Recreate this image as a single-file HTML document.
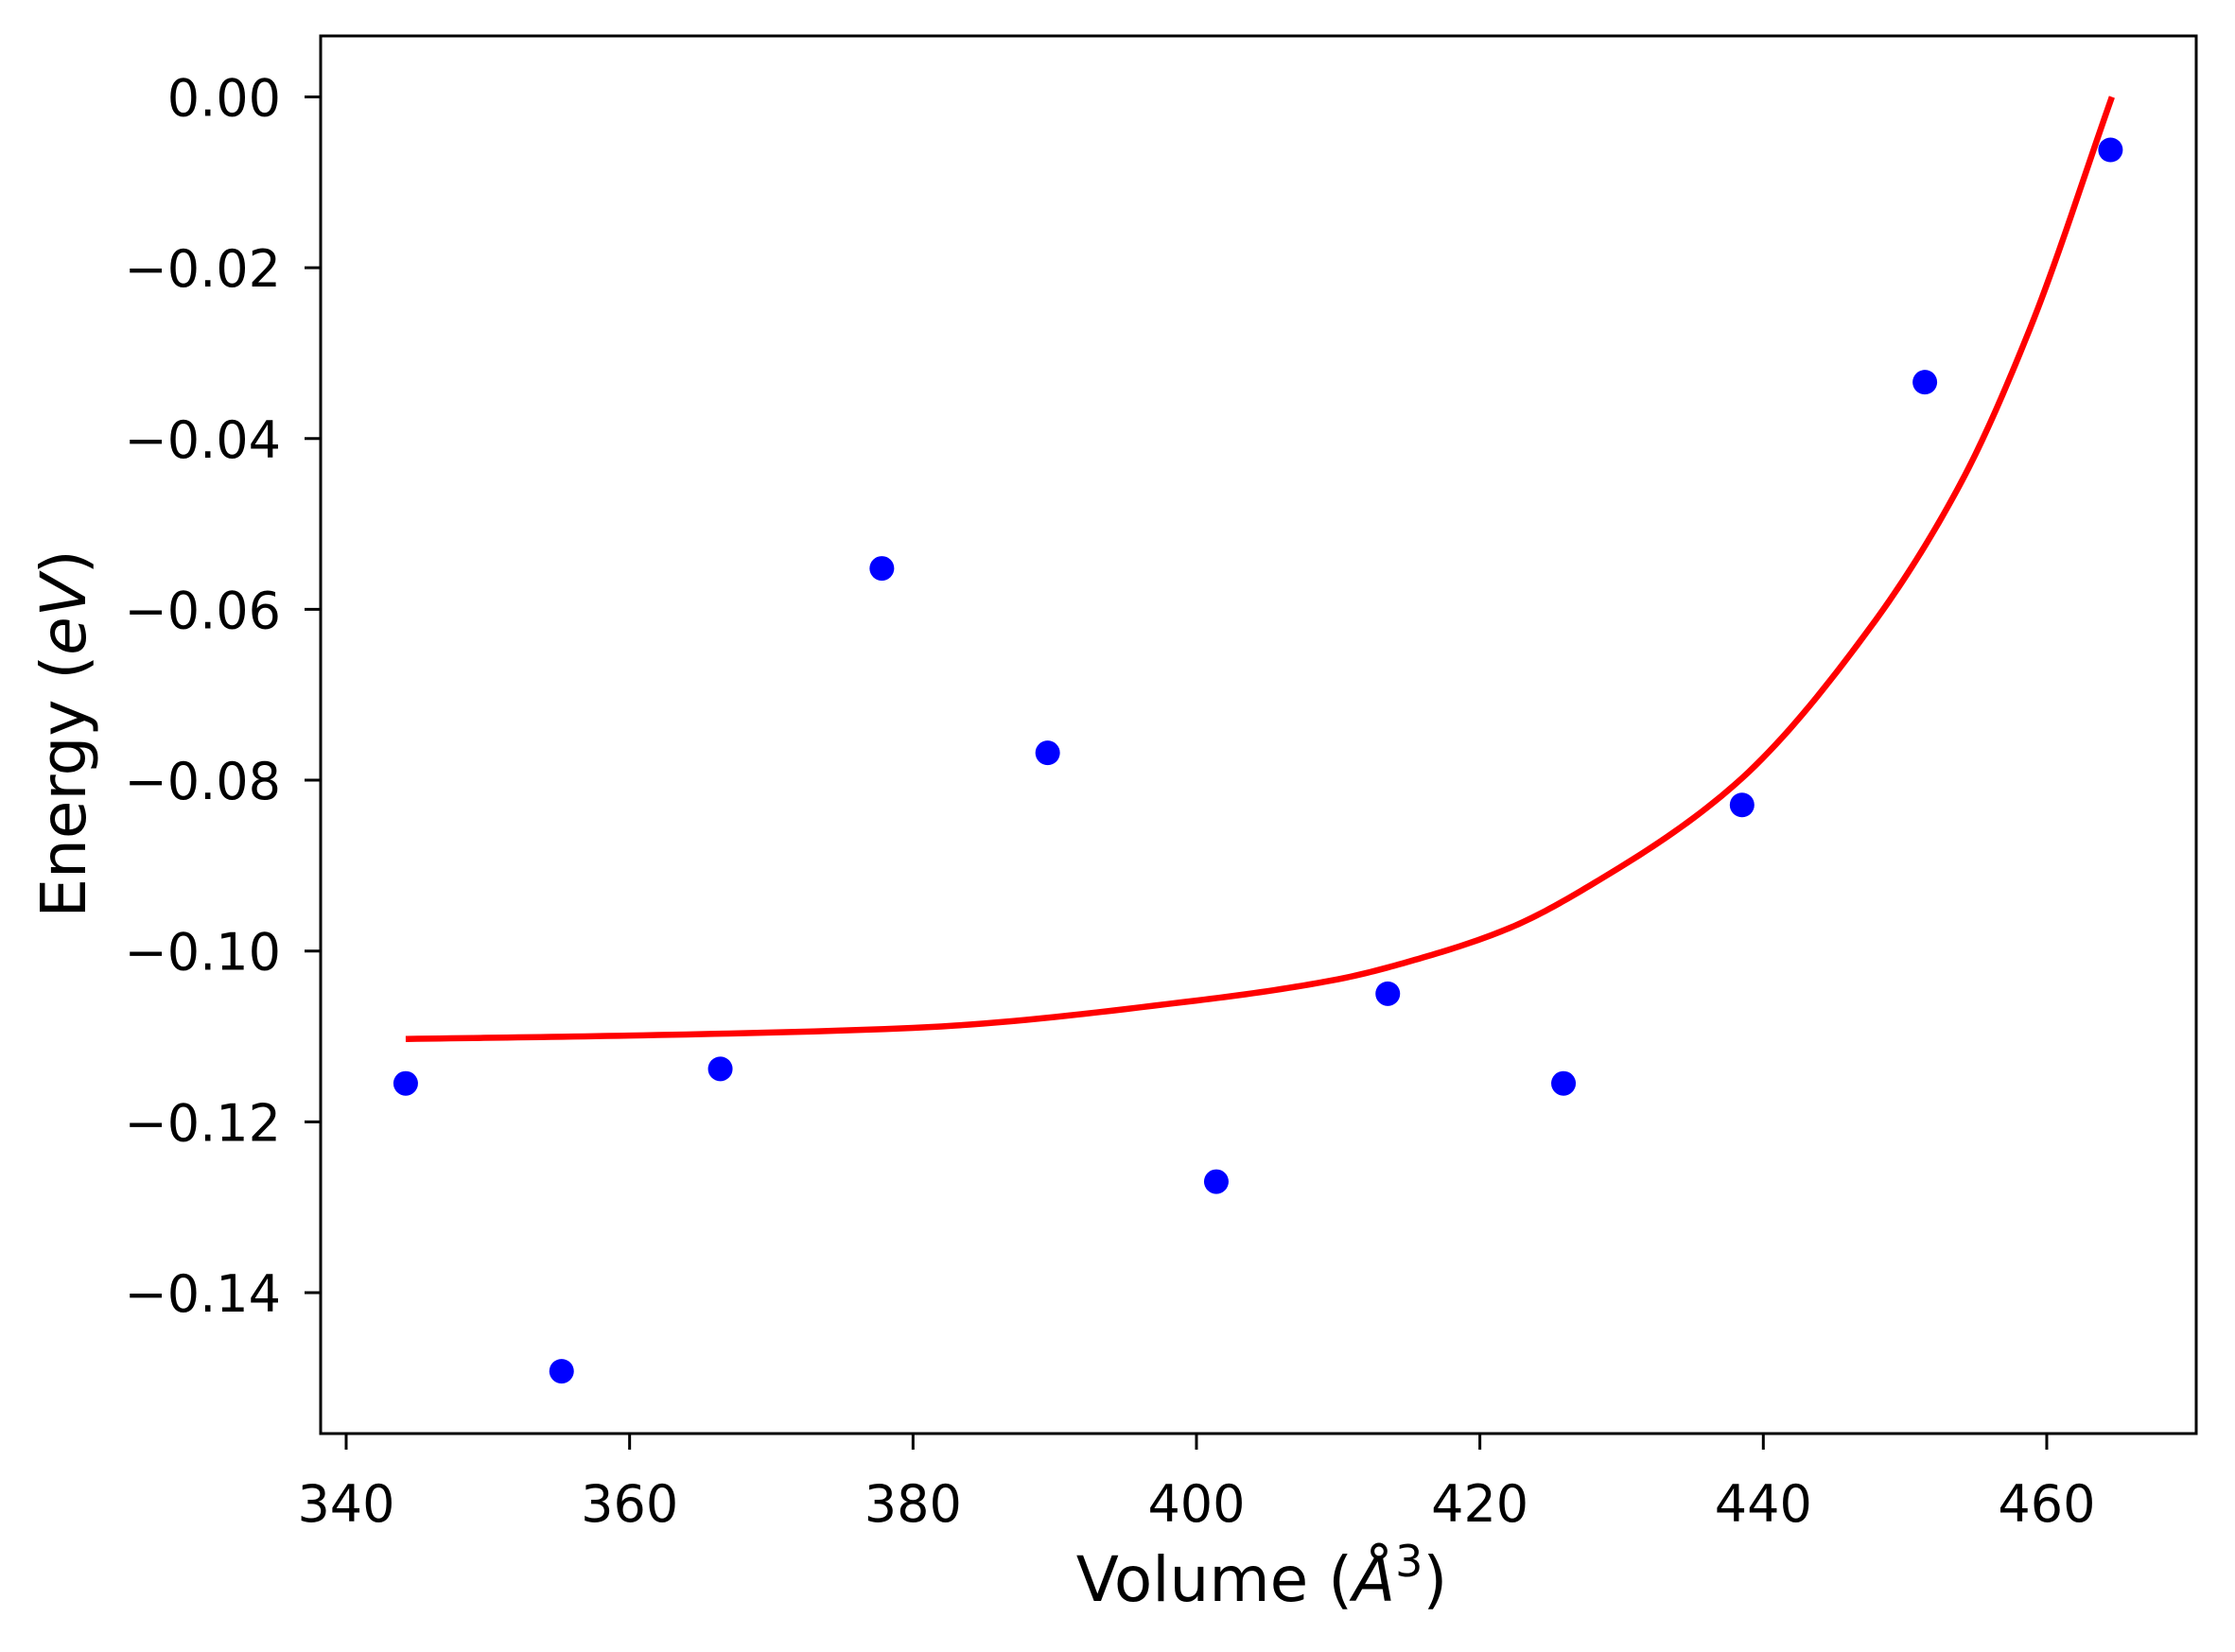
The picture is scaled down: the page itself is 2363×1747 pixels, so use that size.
<!DOCTYPE html>
<html><head><meta charset="utf-8"><style>html,body{margin:0;padding:0;background:#fff}svg{display:block}</style></head>
<body>
<svg id="chart" width="2363" height="1747" xmlns="http://www.w3.org/2000/svg" font-family="DejaVu Sans, Liberation Sans, sans-serif">
<rect width="2363" height="1747" fill="#fff"/>
<g id="plot"></g>
<text x="1334" y="1693" font-size="66" text-anchor="middle">Volume (<tspan font-style="italic">Å</tspan><tspan font-size="46" dy="-26">3</tspan><tspan dy="26">)</tspan></text>
<text transform="translate(90,776) rotate(-90)" font-size="66" text-anchor="middle">Energy (<tspan font-style="italic">eV</tspan>)</text>
</svg>
<script>
const pointVolumes=[344.2,355.2,366.4,377.8,389.5,401.4,413.5,425.9,438.5,451.4,464.5];
const pointEnergies=[-0.1155,-0.1492,-0.1138,-0.0552,-0.0768,-0.1270,-0.1050,-0.1155,-0.0829,-0.0334,-0.0062];
const fitVolumes=[344.2,360,380,400,410,415.7,422.1,428.4,438.0,447.6,454.0,458.8,464.6];
const fitEnergies=[-0.1103,-0.1099,-0.1090,-0.1058,-0.1033,-0.1009,-0.0973,-0.0917,-0.0805,-0.0620,-0.0450,-0.0272,0.0];
const xTicks=[340,360,380,400,420,440,460];
const yTicks=[0,-0.02,-0.04,-0.06,-0.08,-0.10,-0.12,-0.14];
const yTickLabels=["0.00","\u22120.02","\u22120.04","\u22120.06","\u22120.08","\u22120.10","\u22120.12","\u22120.14"];

const L=339,R=2322,T=38,B=1516;
const xs=v=>366+(v-340)*14.983;
const ys=e=>102.5-(e/0.02)*180.64;
const NS='http://www.w3.org/2000/svg';
const g=document.getElementById('plot');
function mk(t,a){const e=document.createElementNS(NS,t);for(const k in a)e.setAttribute(k,a[k]);g.appendChild(e);return e;}

// monotone cubic interpolation (Fritsch-Carlson)
const n=fitVolumes.length;
const dx=[],sl=[];
for(let i=0;i<n-1;i++){dx.push(fitVolumes[i+1]-fitVolumes[i]);sl.push((fitEnergies[i+1]-fitEnergies[i])/dx[i]);}
const m=[sl[0]];
for(let i=1;i<n-1;i++){if(sl[i-1]*sl[i]<=0)m.push(0);else{const w1=2*dx[i]+dx[i-1],w2=dx[i]+2*dx[i-1];m.push((w1+w2)/(w1/sl[i-1]+w2/sl[i]));}}
m.push(sl[n-2]);
let d='';
for(let i=0;i<n-1;i++){
  for(let k=0;k<=20;k++){
    if(i>0&&k===0)continue;
    const t=k/20,h=dx[i];
    const h00=2*t*t*t-3*t*t+1,h10=t*t*t-2*t*t+t,h01=-2*t*t*t+3*t*t,h11=t*t*t-t*t;
    const v=fitVolumes[i]+t*h;
    const e=h00*fitEnergies[i]+h10*h*m[i]+h01*fitEnergies[i+1]+h11*h*m[i+1];
    d+=(d?' L':'M')+xs(v).toFixed(2)+','+ys(e).toFixed(2);
  }
}
const line=mk('path',{d:d,fill:'none',stroke:'#ff0000','stroke-width':6.5,'stroke-linejoin':'round'});



pointVolumes.forEach((v,i)=>{const c=mk('circle',{cx:xs(v),cy:ys(pointEnergies[i]),r:13,fill:'#0000ff'});

});

const frame=mk('rect',{x:L,y:T,width:R-L,height:B-T,fill:'none',stroke:'#000','stroke-width':3});



xTicks.forEach(t=>{const x=xs(t);
const tk=mk('line',{x1:x,x2:x,y1:B,y2:B+17,stroke:'#000','stroke-width':3});


const tx=mk('text',{x:x,y:1609,'font-size':54,'text-anchor':'middle'});tx.textContent=t;

});

yTicks.forEach((t,i)=>{const y=ys(t);
const tk=mk('line',{x1:L-17,x2:L,y1:y,y2:y,stroke:'#000','stroke-width':3});


const tx=mk('text',{x:297,y:y+20,'font-size':54,'text-anchor':'end'});tx.textContent=yTickLabels[i];

});
</script>
</body></html>
